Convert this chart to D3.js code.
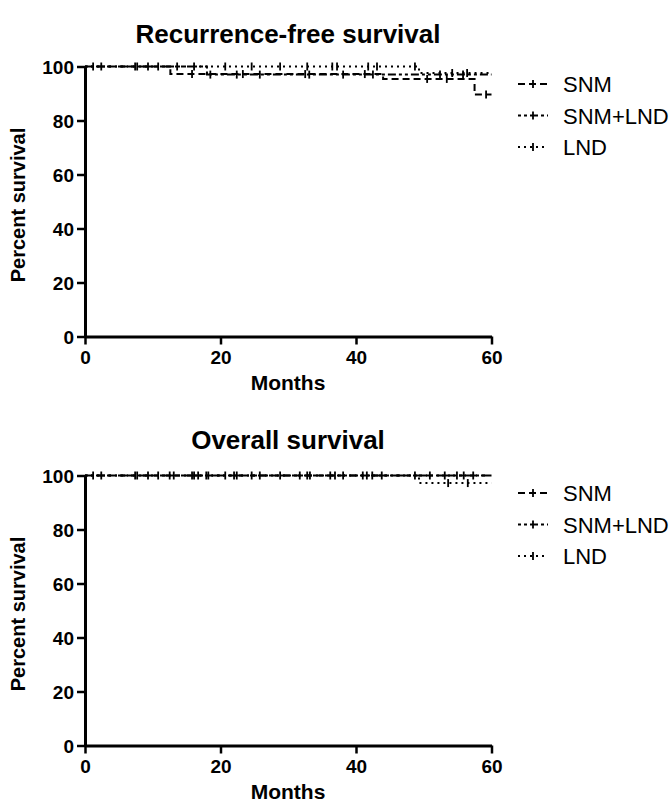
<!DOCTYPE html>
<html><head><meta charset="utf-8">
<script src="https://cdn.jsdelivr.net/npm/d3@7"></script>
<style>
body{margin:0;background:#fff;}
svg{display:block;}
text{font-family:"Liberation Sans",Arial,sans-serif;fill:#000;}
</style></head>
<body>
<svg id="c" width="671" height="805"></svg>
<script>
// ---- data ----
const groups = ["SNM", "SNM+LND", "LND"];
const xTicks = [0, 20, 40, 60];
const yTicks = [0, 20, 40, 60, 80, 100];

// Recurrence-free survival: step points [month, percent]
const rfsSNM = [[0,100],[12.6,97.2],[44.0,95.4],[57.5,89.6],[60,89.6]];
const rfsSNMLND = [[0,100],[18.0,97.0],[60,97.0]];
const rfsLND = [[0,100],[49.3,97.6],[60,97.6]];
// censored times
const rfsSNMCens = [2.4, 10.8, 15.8, 23.3, 32.5, 41.3, 50.5, 53.4, 59.2];
const rfsSNMLNDCens = [1.2, 7.4, 9.3, 13.6, 16.1, 18.5, 22.4, 25.8, 33.1, 38.1, 42.5, 52.4, 55.8];
const rfsLNDCens = [7.7, 20.7, 24.6, 28.8, 32.8, 36.5, 37.2, 41.8, 43.1, 48.7, 54.2, 56.4];

// Overall survival
const osSNM = [[0,100],[60,100]];
const osSNMLND = [[0,100],[60,100]];
const osLND = [[0,100],[49.3,97.2],[60,97.2]];
const osSNMCens = [1.2, 7.4, 9.3, 12.5, 15.8, 17.9, 20.7, 22.4, 25.8, 31.7, 33.2, 36.9, 41.0, 42.4, 48.7, 53.1, 55.9];
const osSNMLNDCens = [2.4, 7.7, 10.8, 13.1, 16.1, 16.7, 18.2, 22.0, 24.6, 28.8, 32.8, 36.2, 38.1, 41.6, 43.8, 50.9, 54.9, 57.3];
const osLNDCens = [53.6, 56.5];

const panels = [
  {title: "Recurrence-free survival", dy: 0, titleY: 43,
   series: [rfsSNM, rfsSNMLND, rfsLND], cens: [rfsSNMCens, rfsSNMLNDCens, rfsLNDCens]},
  {title: "Overall survival", dy: 409, titleY: 449,
   series: [osSNM, osSNMLND, osLND], cens: [osSNMCens, osSNMLNDCens, osLNDCens]}
];

const dashes = {"SNM": "7,4", "SNM+LND": "3,3,3,3,8,3", "LND": "2,4"};

const svg = d3.select("#c");
const x = d3.scaleLinear().domain([0, 60]).range([85, 491.5]);
const y = d3.scaleLinear().domain([0, 100]).range([336.5, 66.5]);

function stepVal(pts, t) {
  let v = pts[0][1];
  for (const p of pts) { if (p[0] <= t) v = p[1]; }
  return v;
}

panels.forEach(p => {
  const g = svg.append("g").attr("transform", `translate(0,${p.dy})`);
  svg.append("text").attr("x", 288).attr("y", p.titleY).attr("text-anchor", "middle")
    .style("font-size", "26px").style("font-weight", "bold").text(p.title);

  // axes
  const ax = g.append("g").attr("transform", `translate(0,${y(0)})`)
    .call(d3.axisBottom(x).tickValues(xTicks).tickSize(8).tickSizeOuter(0).tickPadding(6));
  const ay = g.append("g").attr("transform", `translate(${x(0)},0)`)
    .call(d3.axisLeft(y).tickValues(yTicks).tickSize(8).tickSizeOuter(0).tickPadding(3));
  [ax, ay].forEach(a => {
    a.select(".domain").attr("stroke", "#000").attr("stroke-width", 3);
    a.selectAll(".tick line").attr("stroke", "#000").attr("stroke-width", 2.5);
    a.selectAll(".tick text").style("font-size", "19px").style("font-weight", "bold")
      .style("font-family", "'Liberation Sans',Arial,sans-serif").attr("fill", "#000");
  });
  ay.selectAll(".tick text").attr("dy", "0.36em");

  g.append("text").attr("x", 288).attr("y", 390).attr("text-anchor", "middle")
    .style("font-size", "21px").style("font-weight", "bold").text("Months");
  g.append("text").attr("transform", "translate(25,205) rotate(-90)").attr("text-anchor", "middle")
    .style("font-size", "20px").style("font-weight", "bold").text("Percent survival");

  const line = d3.line().x(d => x(d[0])).y(d => y(d[1])).curve(d3.curveStepAfter);
  groups.forEach((gr, i) => {
    g.append("path").datum(p.series[i]).attr("d", line).attr("fill", "none")
      .attr("stroke", "#000").attr("stroke-width", 2).attr("stroke-dasharray", dashes[gr]);
    g.selectAll(null).data(p.cens[i]).enter().append("line")
      .attr("x1", d => x(d)).attr("x2", d => x(d))
      .attr("y1", d => y(stepVal(p.series[i], d)) - 4)
      .attr("y2", d => y(stepVal(p.series[i], d)) + 4)
      .attr("stroke", "#000").attr("stroke-width", 1.8);
  });

  // legend
  const lg = g.append("g");
  groups.forEach((gr, i) => {
    const ly = 92 + i * 31.5;
    lg.append("line").attr("x1", 518).attr("x2", 548).attr("y1", ly - 8).attr("y2", ly - 8)
      .attr("stroke", "#000").attr("stroke-width", 2).attr("stroke-dasharray", dashes[gr]);
    lg.append("line").attr("x1", 533).attr("x2", 533).attr("y1", ly - 12).attr("y2", ly - 4)
      .attr("stroke", "#000").attr("stroke-width", 1.8);
    lg.append("text").attr("x", 563).attr("y", ly).style("font-size", "22px").text(gr);
  });
});
</script>
</body></html>
